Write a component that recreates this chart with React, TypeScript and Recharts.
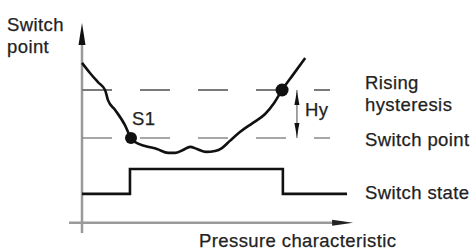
import React from 'react';
import { LineChart, Line, XAxis, YAxis, ReferenceLine, ReferenceDot, Customized } from 'recharts';

// pressure characteristic curve (x = pressure, y = switch point value)
const curveX = [0, 3.0, 6.0, 8.7, 9.8, 12.5, 16.2, 18.5, 20, 23.8, 28.3, 32.5, 35.1, 38.1, 40.8, 43.4, 46.8, 50.2, 52.8, 55.8, 59.6, 64.5, 69.1, 72.5, 75.5, 79.6, 84.2];
const curveY = [71.3, 67.1, 63.3, 60, 55.8, 51.7, 45.4, 40, 38.3, 36.7, 35.4, 33.8, 33.8, 35, 36.3, 35.4, 34.2, 34.6, 35.8, 38.8, 42.5, 46.3, 50, 54.6, 60, 66.3, 73.3];
// switch state step signal
const stateX = [0, 18.1, 75.8, 100];
const stateY = [16.7, 27.1, 16.7, 16.7];
// levels
const switchPointLevel = 40;
const risingLevel = 60;
const levelEnd = 93.6;
const hyX = 81.1;
const s1 = { x: 18.5, y: 40 };
const s2 = { x: 75.5, y: 60 };
const axisOriginY = 4.7;
const xAxisFrom = -4.9;
const xAxisTo = 102.3;
const yAxisFrom = 0.4;
const yAxisTo = 87.9;

const curveData = curveX.map((x, i) => ({ x, y: curveY[i] }));
const stateData = stateX.map((x, i) => ({ x, y: stateY[i] }));

const font = '"Liberation Sans", Arial, sans-serif';
const textStyle: React.CSSProperties = { fontFamily: font, fontSize: 18.5, letterSpacing: 0.4, fill: '#222', stroke: '#222', strokeWidth: 0.25 };

const YArrow = (p: any) => {
  const { x1, y1, y2 } = p;
  const top = Math.min(y1, y2);
  const bot = Math.max(y1, y2);
  return (
    <g>
      <line x1={x1} y1={bot} x2={x1} y2={top + 10} stroke="#9a9a9a" strokeWidth={2.5} />
      <polygon points={`${x1},${top} ${x1 - 3.5},${top + 22} ${x1 + 3.5},${top + 22}`} fill="#111" />
    </g>
  );
};

const XArrow = (p: any) => {
  const { x1, y1, x2 } = p;
  const l = Math.min(x1, x2);
  const r = Math.max(x1, x2);
  return (
    <g>
      <line x1={l} y1={y1} x2={r - 10} y2={y1} stroke="#9a9a9a" strokeWidth={2.5} />
      <polygon points={`${r},${y1} ${r - 21},${y1 - 3} ${r - 21},${y1 + 3}`} fill="#222" />
    </g>
  );
};

const HyArrow = (p: any) => {
  const { x1, y1, y2 } = p;
  const top = Math.min(y1, y2);
  const bot = Math.max(y1, y2);
  return (
    <g>
      <line x1={x1} y1={top} x2={x1} y2={bot} stroke="#999" strokeWidth={1.8} />
      <polygon points={`${x1},${top + 1} ${x1 - 2.5},${top + 15} ${x1 + 2.5},${top + 15}`} fill="#111" />
      <polygon points={`${x1},${bot - 1} ${x1 - 2.5},${bot - 15} ${x1 + 2.5},${bot - 15}`} fill="#111" />
    </g>
  );
};

const Labels = () => (
  <g>
    <text x={7} y={31} style={textStyle}>Switch</text>
    <text x={7} y={53} style={textStyle}>point</text>
    <text x={132} y={125} style={textStyle}>S1</text>
    <text x={305} y={116} style={textStyle}>Hy</text>
    <text x={365} y={89} style={textStyle}>Rising</text>
    <text x={365} y={111} style={textStyle}>hysteresis</text>
    <text x={365} y={146} style={textStyle}>Switch point</text>
    <text x={365} y={199} style={textStyle}>Switch state</text>
    <text x={199} y={247} style={textStyle}>Pressure characteristic</text>
  </g>
);

export default function App() {
  return (
    <div style={{ position: 'absolute', left: 0, top: 0, width: 472, height: 251, background: '#fff' }}>
      <LineChart width={472} height={251} margin={{ top: 18, right: 117.05, bottom: 17, left: 68.75 }}>
        <XAxis type="number" dataKey="x" domain={[-5, 103]} hide allowDataOverflow />
        <YAxis type="number" dataKey="y" domain={[0, 90]} hide allowDataOverflow />
        <ReferenceLine segment={[{ x: xAxisFrom, y: axisOriginY }, { x: xAxisTo, y: axisOriginY }]} shape={XArrow} ifOverflow="visible" />
        <ReferenceLine segment={[{ x: 0, y: yAxisFrom }, { x: 0, y: yAxisTo }]} shape={YArrow} ifOverflow="visible" />
        <ReferenceLine segment={[{ x: 0, y: risingLevel }, { x: levelEnd, y: risingLevel }]} stroke="#7a7a7a" strokeWidth={2} strokeDasharray="30 28" ifOverflow="visible" />
        <ReferenceLine segment={[{ x: 0, y: switchPointLevel }, { x: levelEnd, y: switchPointLevel }]} stroke="#8a8a8a" strokeWidth={1.6} strokeDasharray="30 28" ifOverflow="visible" />
        <ReferenceLine segment={[{ x: hyX, y: switchPointLevel }, { x: hyX, y: risingLevel }]} shape={HyArrow} ifOverflow="visible" />
        <Line data={stateData} dataKey="y" type="stepAfter" stroke="#111" strokeWidth={2.6} dot={false} isAnimationActive={false} />
        <Line data={curveData} dataKey="y" type="monotone" stroke="#111" strokeWidth={2.6} dot={false} isAnimationActive={false} />
        <ReferenceDot x={s1.x} y={s1.y} r={6} fill="#111" stroke="none" ifOverflow="visible" />
        <ReferenceDot x={s2.x} y={s2.y} r={6.5} fill="#111" stroke="none" ifOverflow="visible" />
        <Customized component={Labels} />
      </LineChart>
    </div>
  );
}
